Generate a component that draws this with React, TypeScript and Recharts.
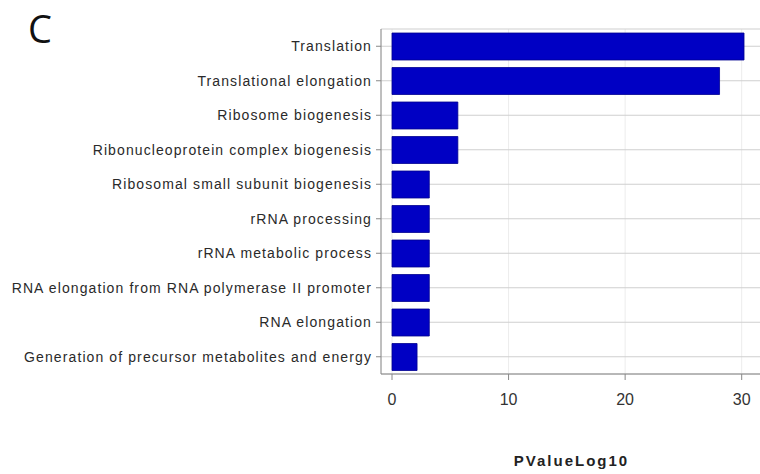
import { Bar, BarChart, CartesianGrid, XAxis, YAxis } from "recharts";

const terms = [
  "Translation",
  "Translational elongation",
  "Ribosome biogenesis",
  "Ribonucleoprotein complex biogenesis",
  "Ribosomal small subunit biogenesis",
  "rRNA processing",
  "rRNA metabolic process",
  "RNA elongation from RNA polymerase II promoter",
  "RNA elongation",
  "Generation of precursor metabolites and energy",
];

const pValueLog10 = [30.2, 28.1, 5.65, 5.65, 3.2, 3.2, 3.2, 3.2, 3.2, 2.15];

const xTicks = [0, 10, 20, 30];

const data = terms.map((term, i) => ({ term, value: pValueLog10[i] }));

const labelFont = "'Liberation Sans', Arial, sans-serif";

function TermTick(props: any) {
  const { x, y, payload } = props;
  return (
    <text
      x={x}
      y={y}
      dy={5}
      textAnchor="end"
      fill="#2a2a2a"
      fontSize={14}
      letterSpacing={1.1}
      fontFamily={labelFont}
    >
      {payload.value}
    </text>
  );
}

export default function App() {
  return (
    <div
      style={{
        position: "absolute",
        left: 0,
        top: 0,
        width: 760,
        height: 474,
        overflow: "hidden",
        background: "#fff",
      }}
    >
      <div
        style={{
          position: "absolute",
          left: 28,
          top: 8,
          fontFamily: "'Open Sans', 'Liberation Sans', sans-serif",
          fontSize: 38,
          color: "#111",
          lineHeight: 1.1,
        }}
      >
        C
      </div>
      <BarChart
        width={800}
        height={474}
        data={data}
        layout="vertical"
        margin={{ top: 29, right: 20, bottom: 0, left: 0 }}
        barCategoryGap={4}
      >
        <CartesianGrid horizontal={false} stroke="#ececec" />
        <CartesianGrid vertical={false} stroke="#cfcfcf" />
        <XAxis
          type="number"
          dataKey="value"
          domain={[0, 32]}
          ticks={xTicks}
          padding={{ left: 11, right: 15 }}
          height={100}
          stroke="#888"
          tickSize={6}
          tickMargin={14}
          tick={{ fill: "#333", fontSize: 16, fontFamily: labelFont }}
          label={{
            value: "PValueLog10",
            position: "insideBottom",
            offset: 8,
            dx: -9,
            fill: "#222",
            fontSize: 15,
            fontWeight: "bold",
            letterSpacing: 2,
            fontFamily: labelFont,
          }}
        />
        <XAxis
          xAxisId="top"
          orientation="top"
          type="number"
          domain={[0, 32]}
          height={0}
          tick={false}
          tickLine={false}
          stroke="#999"
        />
        <YAxis
          type="category"
          dataKey="term"
          width={381}
          stroke="#888"
          tickSize={5}
          tickMargin={4}
          tick={<TermTick />}
          interval={0}
        />
        <Bar
          dataKey="value"
          fill="#0000c4"
          stroke="#000090"
          strokeWidth={0.8}
          isAnimationActive={false}
        />
      </BarChart>
    </div>
  );
}
